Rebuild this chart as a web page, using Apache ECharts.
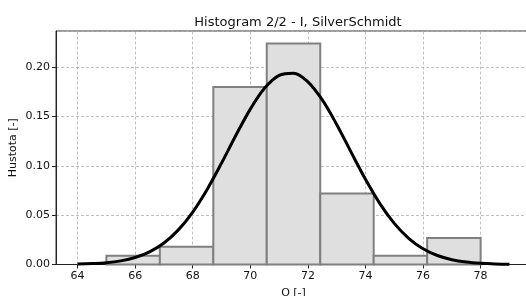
<!DOCTYPE html>
<html>
<head>
<meta charset="utf-8">
<script src="https://cdn.jsdelivr.net/npm/echarts@6/dist/echarts.min.js"></script>
<style>
  html, body { margin: 0; padding: 0; background: #fff; }
  #mychart { width: 526px; height: 296px; }
</style>
</head>
<body>
<!-- chart container -->
<div id="mychart"></div>
<script>
// bin edges of the histogram (7 bins)
const binEdges = [65, 66.857, 68.714, 70.571, 72.429, 74.286, 76.143, 78];
// density per bin
const binDensity = [0.009, 0.018, 0.180, 0.224, 0.072, 0.009, 0.027];
// fitted curve
const curveX = [64, 64.5, 65, 65.5, 66, 66.5, 67, 67.5, 68, 68.5, 69, 69.5, 70, 70.5, 71, 71.5,
  72, 72.5, 73, 73.5, 74, 74.5, 75, 75.5, 76, 76.5, 77, 77.5, 78, 78.5, 79];
const curveY = [0.0004, 0.0009, 0.0018, 0.0037, 0.0071, 0.0128, 0.0218, 0.0351, 0.0532, 0.0761,
  0.1028, 0.1310, 0.1576, 0.1789, 0.1918, 0.1940, 0.1852, 0.1669, 0.1420, 0.1140, 0.0864,
  0.0618, 0.0417, 0.0266, 0.0160, 0.0091, 0.0049, 0.0025, 0.0012, 0.0005, 0.0002];
// tick labels
const xTicks = [64, 66, 68, 70, 72, 74, 76, 78];

const gridLine = { color: '#b0b0b0', width: 0.8, type: [3, 2] };
const font = 'DejaVu Sans';

let barData = binDensity.map((h, i) => [binEdges[i], binEdges[i + 1], h]);
let curveData = curveX.map((x, i) => [x, curveY[i]]);

let myEcharts = echarts.init(document.getElementById('mychart'), null, { renderer: 'canvas' });

let option = {
  animation: false,
  title: {
    text: 'Histogram 2/2 - I, SilverSchmidt',
    left: 293,
    textAlign: 'center',
    top: 11,
    textStyle: { fontFamily: font, fontSize: 13, fontWeight: 'normal', color: '#111' }
  },
  grid: {
    left: 56, right: -5, top: 31, bottom: 31.5,
    outerBoundsMode: 'none',
    containLabel: false,
    show: true, borderColor: '#333', borderWidth: 1
  },
  xAxis: {
    type: 'value',
    min: 63.25,
    max: 79.75,
    name: 'O [-]',
    nameLocation: 'middle',
    nameGap: 23,
    nameMoveOverlap: false,
    nameTextStyle: { fontFamily: font, fontSize: 11, color: '#111' },
    axisLine: { lineStyle: { color: '#222', width: 1 } },
    axisTick: { length: 4, customValues: xTicks, lineStyle: { color: '#222' } },
    axisLabel: { customValues: xTicks, fontFamily: font, fontSize: 11, color: '#111', margin: 6 },
    splitLine: { show: false }
  },
  yAxis: {
    type: 'value',
    min: 0,
    max: 0.2368,
    interval: 0.05,
    name: 'Hustota [-]',
    nameLocation: 'middle',
    nameGap: 37,
    nameMoveOverlap: false,
    nameTextStyle: { fontFamily: font, fontSize: 11, color: '#111' },
    axisLine: { show: true, lineStyle: { color: '#222', width: 1 } },
    axisTick: { show: true, length: 4, lineStyle: { color: '#222' } },
    axisLabel: {
      fontFamily: font, fontSize: 11, color: '#111', margin: 6,
      showMaxLabel: false,
      formatter: v => v.toFixed(2)
    },
    splitLine: { show: true, lineStyle: gridLine }
  },
  series: [
    {
      type: 'custom',
      data: barData,
      z: 2,
      renderItem: (params, api) => {
        let p0 = api.coord([api.value(0), 0]);
        let p1 = api.coord([api.value(1), api.value(2)]);
        return {
          type: 'rect',
          shape: { x: p0[0], y: p1[1], width: p1[0] - p0[0], height: p0[1] - p1[1] },
          style: { fill: '#dfdfdf', stroke: '#808080', lineWidth: 2 }
        };
      }
    },
    {
      type: 'line',
      data: curveData,
      z: 3,
      symbol: 'none',
      smooth: 0.35,
      lineStyle: { color: '#000', width: 3 },
      // vertical grid lines at the x ticks
      markLine: {
        silent: true,
        symbol: 'none',
        label: { show: false },
        z: 1,
        lineStyle: gridLine,
        data: xTicks.map(v => ({ xAxis: v }))
      }
    }
  ]
};

myEcharts.setOption(option);
</script>
</body>
</html>
